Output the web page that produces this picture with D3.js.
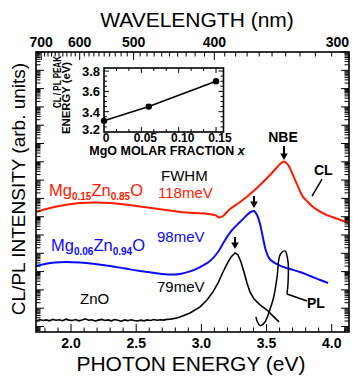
<!DOCTYPE html>
<html><head><meta charset="utf-8">
<script src="https://cdn.jsdelivr.net/npm/d3@7"></script>
<style>body{margin:0;background:#fff} svg{display:block;font-family:Arial,"Liberation Sans",Helvetica,sans-serif}</style>
</head><body><svg id="c" width="355" height="378"></svg>
<script>
// ---- data ----
const energyTicks = [2.0, 2.5, 3.0, 3.5, 4.0];
const energyTickLabels = ["2.0", "2.5", "3.0", "3.5", "4.0"];
const wavelengthTicks = [700, 600, 500, 400, 300];
const insetXTicks = [0, 0.05, 0.10, 0.15];
const insetXTickLabels = ["0", "0.05", "0.10", "0.15"];
const insetYTicks = [3.2, 3.4, 3.6, 3.8];
const insetYTickLabels = ["3.2", "3.4", "3.6", "3.8"];
const insetFraction = [0, 0.06, 0.15];
const insetPeak = [3.31, 3.45, 3.70];

// Mg0.15Zn0.85O CL (log10 intensity, arb.)
const mg15E = [1.731,1.838,1.954,2.069,2.184,2.299,2.414,2.529,2.644,2.759,2.836,2.951,3.028,3.082,3.112,3.135,3.166,3.220,3.297,3.374,3.450,3.512,3.565,3.604,3.634,3.665,3.696,3.726,3.757,3.780,3.818,3.857,3.911,3.964,4.026,4.079,4.133];
const mg15LogI = [6.26,6.48,6.64,6.75,6.78,6.75,6.67,6.56,6.45,6.34,6.26,6.20,6.18,6.12,6.07,5.96,6.04,6.42,6.80,7.24,7.73,8.17,8.58,8.88,9.02,8.83,8.39,7.90,7.40,7.08,6.80,6.53,6.28,6.09,5.93,5.79,5.66];

// Mg0.06Zn0.94O CL
const mg06E = [1.731,1.800,1.877,1.954,2.069,2.184,2.299,2.414,2.529,2.644,2.759,2.836,2.913,2.990,3.066,3.128,3.182,3.235,3.297,3.350,3.381,3.404,3.427,3.450,3.473,3.496,3.519,3.550,3.604,3.680,3.757,3.834,3.911,3.972];
const mg06LogI = [3.31,3.42,3.50,3.53,3.50,3.42,3.31,3.17,3.03,2.92,2.84,2.87,3.01,3.25,3.58,4.07,4.73,5.27,5.71,6.09,6.26,6.31,6.09,5.60,4.84,4.13,3.74,3.53,3.33,3.14,2.98,2.76,2.54,2.38];

// ZnO CL
const znoE = [1.735,1.76,1.785,1.81,1.835,1.86,1.885,1.91,1.935,1.96,1.985,2.01,2.035,2.06,2.085,2.11,2.135,2.16,2.185,2.21,2.235,2.26,2.285,2.31,2.335,2.36,2.385,2.41,2.435,2.46,2.485,2.51,2.535,2.56,2.585,2.61,2.635,2.66,2.685,2.71,2.735,2.76,2.785,2.81,
  2.836,2.913,2.990,3.043,3.089,3.128,3.166,3.197,3.228,3.258,3.281,3.304,3.327,3.350,3.373,3.404,3.450,3.504,3.550,3.596];
const znoLogI = [0.30,0.38,0.33,0.36,0.31,0.39,0.34,0.37,0.32,0.40,0.35,0.33,0.38,0.31,0.36,0.42,0.34,0.37,0.30,0.35,0.39,0.33,0.36,0.31,0.38,0.34,0.29,0.36,0.32,0.37,0.33,0.30,0.35,0.31,0.36,0.33,0.38,0.34,0.37,0.35,0.39,0.40,0.43,0.47,
  0.52,0.74,1.07,1.45,1.89,2.38,2.98,3.42,3.80,4.02,3.91,3.53,2.98,2.38,1.89,1.50,1.18,0.90,0.57,0.25];

// annotations (energy, log intensity)
const arrows = [ {e:3.634, top:9.86, tip:9.10}, {e:3.404, top:7.13, tip:6.47}, {e:3.258, top:4.89, tip:4.23} ];
const clLeaderE = [3.926, 3.849], clLeaderV = [8.06, 7.13];
const plLeaderE = [3.811, 3.657], plLeaderV = [1.39, 1.78];
const plLoopE = [3.657,3.665,3.665,3.642,3.604,3.581,3.555,3.520,3.485,3.450,3.427,3.419];
const plLoopV = [1.78,2.38,3.53,4.13,3.91,2.71,1.61,0.80,0.22,0.05,0.30,0.52];

// ---- chart ----
const svg = d3.select("#c");
const L = 36, R = 349, T = 52, B = 332;
const x = d3.scaleLinear().domain([1.731, 4.1328]).range([L, R]);
const y = d3.scaleLinear().domain([-0.3, 15]).range([B, T]);
const RED = "#ff1a00", BLUE = "#0a0aff";

svg.append("defs").append("clipPath").attr("id","plot").append("rect")
  .attr("x",L).attr("y",T).attr("width",R-L).attr("height",B-T);

const line = d3.line().x(d=>x(d[0])).y(d=>y(d[1])).curve(d3.curveCatmullRom.alpha(0.5));
const g = svg.append("g").attr("clip-path","url(#plot)");
g.append("path").attr("d", line(d3.zip(mg15E, mg15LogI))).attr("fill","none").attr("stroke",RED).attr("stroke-width",2);
g.append("path").attr("d", line(d3.zip(mg06E, mg06LogI))).attr("fill","none").attr("stroke",BLUE).attr("stroke-width",2);
g.append("path").attr("d", d3.line().x(d=>x(d[0])).y(d=>y(d[1]))(d3.zip(znoE, znoLogI))).attr("fill","none").attr("stroke","#000").attr("stroke-width",1.6);

// leaders
const lin = d3.line().x(d=>x(d[0])).y(d=>y(d[1]));
svg.append("path").attr("d", lin(d3.zip(clLeaderE, clLeaderV))).attr("stroke","#000").attr("stroke-width",1.5).attr("fill","none");
svg.append("path").attr("d", lin(d3.zip(plLeaderE, plLeaderV))).attr("stroke","#000").attr("stroke-width",1.5).attr("fill","none");
svg.append("path").attr("d", line(d3.zip(plLoopE, plLoopV))).attr("stroke","#000").attr("stroke-width",1.5).attr("fill","none");

// arrows
arrows.forEach(a => {
  const ax = x(a.e), yt = y(a.top), yp = y(a.tip);
  svg.append("line").attr("x1",ax).attr("x2",ax).attr("y1",yt).attr("y2",yp-5).attr("stroke","#000").attr("stroke-width",2);
  svg.append("path").attr("d",`M${ax-3.8},${yp-6.5}L${ax+3.8},${yp-6.5}L${ax},${yp}Z`).attr("fill","#000");
});

// frame
svg.append("rect").attr("x",L).attr("y",T).attr("width",R-L).attr("height",B-T).attr("fill","none").attr("stroke","#000").attr("stroke-width",1.6);

// log ticks left/right
const ticks = svg.append("g").attr("stroke","#000").attr("stroke-width",1);
for (let d = -1; d <= 15; d++) {
  for (let k = 1; k <= 9; k++) {
    const v = d + Math.log10(k);
    if (v < -0.3 || v > 15) continue;
    const len = k === 1 ? 8 : 4.5;
    const yy = y(v);
    ticks.append("line").attr("x1",L).attr("x2",L+len).attr("y1",yy).attr("y2",yy);
    ticks.append("line").attr("x1",R).attr("x2",R-len).attr("y1",yy).attr("y2",yy);
  }
}
// bottom energy ticks
for (let i = 18; i <= 41; i++) {
  const e = i/10, len = (i % 5 === 0) ? 8 : 4.5;
  ticks.append("line").attr("x1",x(e)).attr("x2",x(e)).attr("y1",B).attr("y2",B-len);
}
// top wavelength ticks
for (let w = 300; w <= 710; w += 10) {
  const len = (w % 100 === 0) ? 8 : 4.5;
  const xx = x(1239.84/w);
  ticks.append("line").attr("x1",xx).attr("x2",xx).attr("y1",T).attr("y2",T+len);
}

// tick labels
energyTicks.forEach((e,i) => svg.append("text").attr("x",x(e)).attr("y",348).attr("text-anchor","middle")
  .attr("font-size",14).attr("font-weight","bold").text(energyTickLabels[i]));
wavelengthTicks.forEach((w,i) => {
  const last = i === wavelengthTicks.length-1;
  svg.append("text").attr("x", last ? 349 : x(1239.84/w)).attr("y",47).attr("text-anchor", last ? "end" : "middle")
    .attr("font-size",14).attr("font-weight","bold").text(String(w));
});

// titles
svg.append("text").attr("x",197).attr("y",26.5).attr("text-anchor","middle").attr("font-size",21).text("WAVELENGTH (nm)");
svg.append("text").attr("x",191).attr("y",371).attr("text-anchor","middle").attr("font-size",21).text("PHOTON ENERGY (eV)");
svg.append("text").attr("transform","translate(25,189) rotate(-90)").attr("text-anchor","middle").attr("font-size",19).text("CL/PL INTENSITY (arb. units)");

// labels
function formula(xp, yp, color, parts) {
  const t = svg.append("text").attr("x",xp).attr("y",yp).attr("fill",color).attr("font-size",16.5);
  parts.forEach(p => {
    if (p.sub) t.append("tspan").attr("dy",4).attr("font-size",10).attr("font-weight","bold").text(p.sub);
    else t.append("tspan").attr("dy", p.up ? -4 : 0).text(p.t);
  });
}
formula(49, 196, RED, [{t:"Mg"},{sub:"0.15"},{t:"Zn",up:1},{sub:"0.85"},{t:"O",up:1}]);
formula(51, 251, BLUE, [{t:"Mg"},{sub:"0.06"},{t:"Zn",up:1},{sub:"0.94"},{t:"O",up:1}]);
svg.append("text").attr("x",158).attr("y",198).attr("fill",RED).attr("font-size",15).text("118meV");
svg.append("text").attr("x",161).attr("y",180.5).attr("font-size",15).text("FWHM");
svg.append("text").attr("x",157).attr("y",242).attr("fill",BLUE).attr("font-size",15).text("98meV");
svg.append("text").attr("x",157).attr("y",292).attr("font-size",15).text("79meV");
svg.append("text").attr("x",80).attr("y",304).attr("font-size",15).text("ZnO");
svg.append("text").attr("x",283).attr("y",142).attr("text-anchor","middle").attr("font-size",14).attr("font-weight","bold").text("NBE");
svg.append("text").attr("x",314).attr("y",175).attr("font-size",14).attr("font-weight","bold").text("CL");
svg.append("text").attr("x",307).attr("y",308).attr("font-size",14).attr("font-weight","bold").text("PL");

// ---- inset ----
const iL = 104, iR = 223.5, iT = 68, iB = 132;
const ix = d3.scaleLinear().domain([0, 0.16]).range([iL, iR]);
const iy = d3.scaleLinear().domain([3.2, 3.83]).range([iB, iT]);
const inset = svg.append("g");
inset.append("rect").attr("x",iL).attr("y",iT).attr("width",iR-iL).attr("height",iB-iT).attr("fill","#fff").attr("stroke","#000").attr("stroke-width",1.6);
for (let i = 1; i * 0.05/3 < 0.16; i++) {
  const v = i*0.05/3, len = (i % 3 === 0) ? 5 : 3;
  inset.append("line").attr("x1",ix(v)).attr("x2",ix(v)).attr("y1",iT).attr("y2",iT+len).attr("stroke","#000");
  inset.append("line").attr("x1",ix(v)).attr("x2",ix(v)).attr("y1",iB).attr("y2",iB-len).attr("stroke","#000");
}
for (let i = 1; 3.2 + i*0.05 < 3.83; i++) {
  const v = 3.2 + i*0.05, len = (i % 4 === 0) ? 5 : 3;
  inset.append("line").attr("x1",iL).attr("x2",iL+len).attr("y1",iy(v)).attr("y2",iy(v)).attr("stroke","#000");
  inset.append("line").attr("x1",iR).attr("x2",iR-len).attr("y1",iy(v)).attr("y2",iy(v)).attr("stroke","#000");
}
const ipts = d3.zip(insetFraction, insetPeak);
inset.append("path").attr("d", d3.line().x(d=>ix(d[0])).y(d=>iy(d[1]))(ipts)).attr("fill","none").attr("stroke","#000").attr("stroke-width",1.6);
inset.selectAll("circle").data(ipts).join("circle").attr("cx",d=>ix(d[0])).attr("cy",d=>iy(d[1])).attr("r",3.2).attr("fill","#000");
insetXTicks.forEach((v,i) => inset.append("text").attr("x",ix(v) + (i===0?2:4)).attr("y",142).attr("text-anchor","middle")
  .attr("font-size",12).attr("font-weight","bold").text(insetXTickLabels[i]));
insetYTicks.forEach((v,i) => inset.append("text").attr("x",100).attr("y",iy(v)+(i===0?2:5)).attr("text-anchor","end")
  .attr("font-size",13).attr("font-weight","bold").text(insetYTickLabels[i]));
const mx = inset.append("text").attr("x",167).attr("y",155).attr("text-anchor","middle").attr("font-size",12.5).attr("font-weight","bold");
mx.append("tspan").text("MgO MOLAR FRACTION ");
mx.append("tspan").attr("font-style","italic").text("x");
inset.append("text").attr("transform","translate(61,82) rotate(-90)").attr("text-anchor","middle").attr("font-size",10.5)
  .attr("font-weight","bold").attr("textLength",52).attr("lengthAdjust","spacingAndGlyphs").text("CL / PL PEAK");
inset.append("text").attr("transform","translate(70,98) rotate(-90)").attr("text-anchor","middle").attr("font-size",10.5)
  .attr("font-weight","bold").attr("textLength",72).attr("lengthAdjust","spacingAndGlyphs").text("ENERGY (eV)");
</script></body></html>
